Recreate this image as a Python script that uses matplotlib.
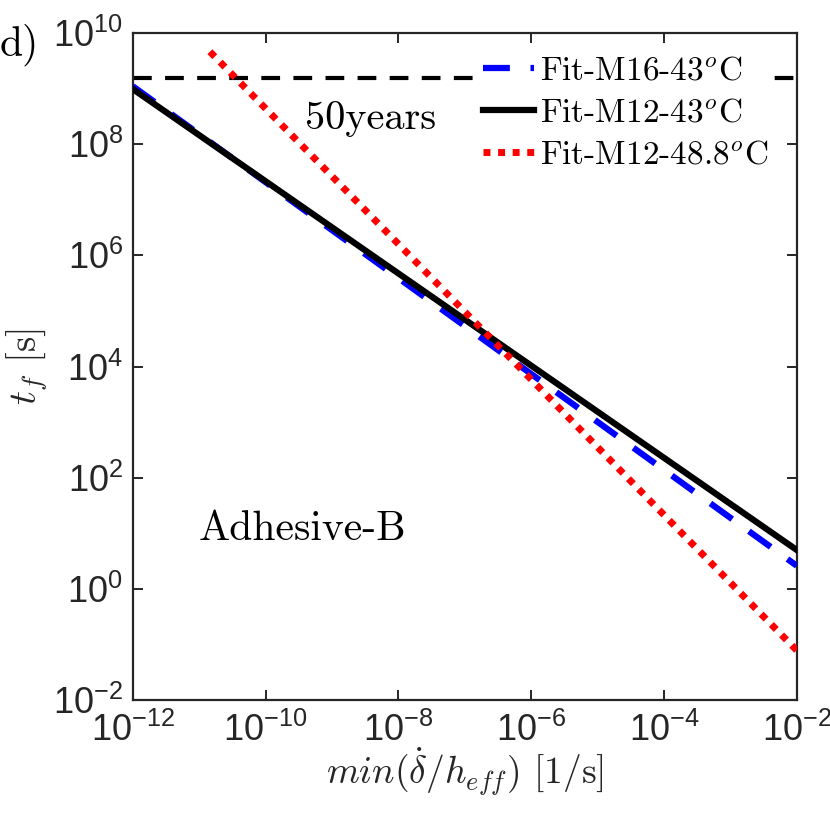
import numpy as np
import matplotlib
matplotlib.use('Agg')
from matplotlib import pyplot as plt

# fitted lifetime lines (straight in log-log), endpoints
x_m16 = [1e-12, 1e-2]
y_m16 = [1.1e9, 2.6]
x_m12 = [1e-12, 1e-2]
y_m12 = [9.8e8, 5.0]
x_m12_hot = [1.45e-11, 1e-2]
y_m12_hot = [4.6e9, 0.078]

fifty_years = 50 * 365 * 24 * 3600.0

x_ticks = [1e-12, 1e-10, 1e-8, 1e-6, 1e-4, 1e-2]
y_ticks = [1e-2, 1e0, 1e2, 1e4, 1e6, 1e8, 1e10]

labels = [r'Fit-M16-43$^o$C', r'Fit-M12-43$^o$C', r'Fit-M12-48.8$^o$C']

plt.rcParams['mathtext.fontset'] = 'cm'
plt.rcParams['font.family'] = 'Liberation Sans'
cm = 'cmr10'
axcol = '#262626'

fig = plt.figure(figsize=(8.3, 8.14), dpi=100)
ax = fig.add_axes([0.160, 0.140, 0.800, 0.8195])

ax.plot([1e-12, 1e-2], [fifty_years, fifty_years], color='black', lw=3,
        linestyle=(0, (4.5, 3.2)), zorder=2)
ax.plot(x_m16, y_m16, color='blue', lw=4.5, linestyle=(0, (4.3, 3.3)),
        dash_capstyle='butt', label=labels[0], zorder=3)
ax.plot(x_m12, y_m12, color='black', lw=4.5, label=labels[1], zorder=4)
ax.plot(x_m12_hot, y_m12_hot, color='red', lw=5, linestyle=(0, (1, 1.1)),
        dash_capstyle='butt', label=labels[2], zorder=5)

ax.set_xscale('log')
ax.set_yscale('log')
ax.set_xlim(1e-12, 1e-2)
ax.set_ylim(1e-2, 1e10)
ax.set_xticks(x_ticks)
ax.set_yticks(y_ticks)
ax.minorticks_off()
ax.tick_params(which='both', direction='in', top=True, right=True,
               length=7, width=1.4, colors=axcol, labelsize=26)
ax.tick_params(axis='x', pad=9)
ax.tick_params(axis='y', pad=7)
for s in ax.spines.values():
    s.set_linewidth(1.6)
    s.set_color(axcol)

ax.set_xlabel(r'$min(\dot{\delta}/h_{eff})$ [1/s]', fontfamily=cm,
              fontsize=27, color=axcol, labelpad=-2)
ax.set_ylabel(r'$t_f$ [s]', fontfamily=cm, fontsize=28, color=axcol,
              labelpad=2)

ax.text(10**-8.42, 10**8.45, '50years', fontfamily=cm, fontsize=29,
        ha='center', va='center', zorder=6,
        bbox=dict(facecolor='white', edgecolor='none', pad=1))
ax.text(10**-9.45, 10**1.08, 'Adhesive-B', fontfamily=cm, fontsize=30,
        ha='center', va='center')
fig.text(0.0, 0.945, 'd)', fontfamily=cm, fontsize=30, ha='left', va='center')

leg = ax.legend(loc='upper right', bbox_to_anchor=(0.965, 0.972),
                frameon=True, fancybox=False, edgecolor='none',
                framealpha=1, borderaxespad=0, borderpad=0.15,
                handlelength=1.53, handletextpad=0.18, labelspacing=0.38,
                prop={'family': cm, 'size': 24})
leg.set_zorder(10)

plt.savefig('out.png', dpi=100)
